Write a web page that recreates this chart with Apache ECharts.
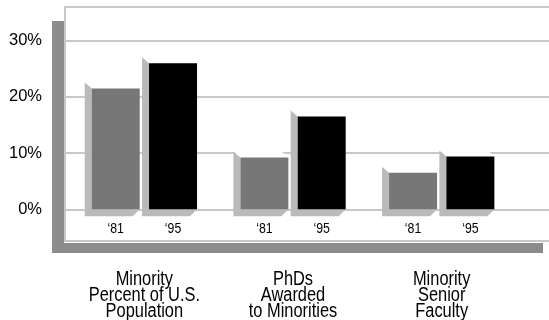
<!DOCTYPE html>
<html>
<head>
<meta charset="utf-8">
<style>
  html, body { margin: 0; padding: 0; background: #ffffff; }
  #chart { width: 549px; height: 320px; }
</style>
<script src="https://cdn.jsdelivr.net/npm/echarts@6/dist/echarts.min.js"></script>
</head>
<body>
<div id="chart"></div>
<script>
// Category names (one per group of bars)
const categories = ['Minority\nPercent of U.S.\nPopulation', 'PhDs\nAwarded\nto Minorities', 'Minority\nSenior\nFaculty'];
// Year labels printed under each bar
const years = ['\u201881', '\u201895'];
// Percent values per year
const values1981 = [21.5, 9.2, 6.5];
const values1995 = [26.0, 16.5, 9.4];
// Y axis ticks
const yTicks = [0, 10, 20, 30];

const SANS = '"Liberation Sans", Arial, sans-serif';
const NARROW_SCALE = 0.82;   // horizontal squeeze for the condensed label face
const FRAME_DARK = '#8c8c8c';
const SIDE = '#bababa';
const GRID_TOP = 40.7;
const GRID_BOTTOM = 110.7;

function makeBars(values, yearLabel, color, offset) {
  return {
    type: 'custom',
    xAxisIndex: 1,
    yAxisIndex: 1,
    z: 5,
    data: values.map((v, i) => [i, v]),
    renderItem: function (params, api) {
      const idx = api.value(0);
      const v = api.value(1);
      const top = api.coord([idx, v]);
      const base = api.coord([idx, 0]);
      const cx = top[0] + offset;
      const w = 48, d = 7, dt = 6;
      const x0 = cx - w / 2, x1 = cx + w / 2;
      const yT = top[1], y0 = base[1];
      return {
        type: 'group',
        children: [
          { type: 'polygon',
            shape: { points: [[x0 - d, yT - dt], [x1 - d, yT - dt], [x1, yT], [x0, yT]] },
            style: { fill: '#ffffff' } },
          { type: 'polygon',
            shape: { points: [[x0 - d, yT - dt], [x0, yT], [x0, y0], [x1, y0], [x1 - d, y0 + d], [x0 - d, y0 + d]] },
            style: { fill: SIDE } },
          { type: 'rect',
            shape: { x: x0, y: yT, width: w, height: y0 - yT },
            style: { fill: color } },
          { type: 'text',
            x: cx, y: y0 + 20, scaleX: NARROW_SCALE,
            style: { text: yearLabel, x: 0, y: 0, align: 'center', verticalAlign: 'middle',
                     font: '15px ' + SANS, fill: '#000000' } }
        ]
      };
    }
  };
}

// Category names below the frame, set in a condensed face
const categoryLabels = {
  type: 'custom',
  xAxisIndex: 1,
  yAxisIndex: 1,
  z: 5,
  data: categories.map((c, i) => [i, 0]),
  renderItem: function (params, api) {
    const idx = api.value(0);
    const base = api.coord([idx, 0]);
    return {
      type: 'text',
      x: base[0], y: base[1] + 62.5, scaleX: NARROW_SCALE,
      style: { text: categories[idx], x: 0, y: 0, align: 'center', verticalAlign: 'top',
               font: '20px ' + SANS, lineHeight: 15.7, fill: '#000000' }
    };
  }
};

const chart = echarts.init(document.getElementById('chart'), null, { renderer: 'canvas' });

chart.setOption({
  animation: false,
  backgroundColor: '#ffffff',
  graphic: [
    { type: 'rect', z: -20, shape: { x: 52, y: 21, width: 12, height: 232 }, style: { fill: FRAME_DARK } },
    { type: 'rect', z: -20, shape: { x: 52, y: 243, width: 491, height: 10 }, style: { fill: FRAME_DARK } },
    { type: 'rect', z: -19, shape: { x: 65, y: 7, width: 500, height: 234 },
      style: { fill: '#ffffff', stroke: '#c8c8c8', lineWidth: 2 } }
  ],
  grid: [
    { left: 64, right: 0, top: GRID_TOP, bottom: GRID_BOTTOM },
    { left: 70, right: 33, top: GRID_TOP, bottom: GRID_BOTTOM }
  ],
  xAxis: [
    { gridIndex: 0, type: 'value', min: 0, max: 1, show: false },
    { gridIndex: 1, type: 'category', data: categories,
      axisLine: { show: false }, axisTick: { show: false }, axisLabel: { show: false } }
  ],
  yAxis: [
    { gridIndex: 0, type: 'value', min: yTicks[0], max: yTicks[yTicks.length - 1], interval: 10,
      axisLine: { show: false }, axisTick: { show: false },
      splitLine: { show: true, lineStyle: { color: '#c8c8c8', width: 2 } },
      axisLabel: { margin: 22, fontFamily: SANS, fontSize: 16.5,
                   color: '#000000', formatter: '{value}%' } },
    { gridIndex: 1, type: 'value', min: yTicks[0], max: yTicks[yTicks.length - 1], interval: 10,
      show: false }
  ],
  series: [
    makeBars(values1981, years[0], '#777777', -28.6),
    makeBars(values1995, years[1], '#000000', 28.7),
    categoryLabels
  ]
});
</script>
</body>
</html>
